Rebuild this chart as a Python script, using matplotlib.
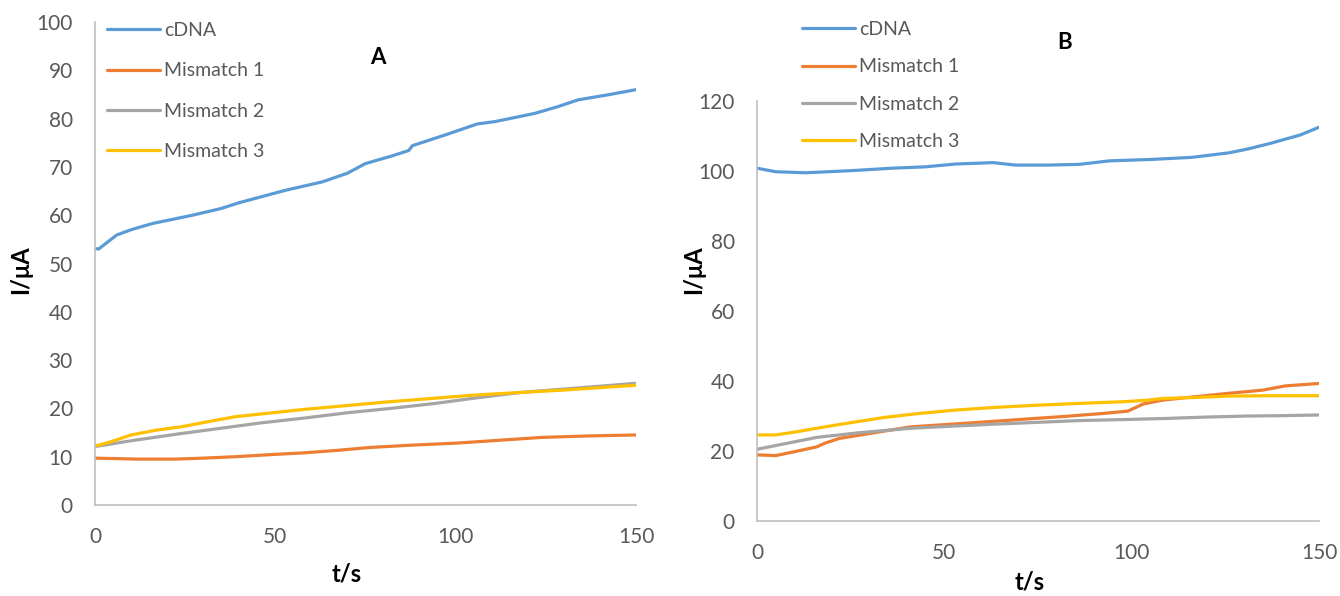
import matplotlib
matplotlib.use("Agg")
import matplotlib.pyplot as plt

plt.rcParams['font.family'] = ['Lato', 'DejaVu Sans']

series_names = ["cDNA", "Mismatch 1", "Mismatch 2", "Mismatch 3"]
colors = ["#5B9BD5", "#ED7D31", "#A5A5A5", "#FFC000"]

# panel A
t_a_cdna = [0, 1, 6, 10, 16, 27, 35, 40, 45, 53, 63, 70, 75, 82, 87, 88, 97, 106, 111, 122, 128, 134, 142, 150]
i_a_cdna = [53.1, 53.0, 55.9, 57.0, 58.3, 60.0, 61.4, 62.6, 63.6, 65.2, 66.9, 68.7, 70.7, 72.2, 73.4, 74.4, 76.6, 78.9, 79.4, 81.1, 82.4, 83.9, 84.9, 86.0]
t_a_m1 = [0, 12, 22, 30, 39, 48, 58, 67, 76, 88, 100, 112, 124, 137, 150]
i_a_m1 = [9.7, 9.5, 9.5, 9.7, 10.0, 10.4, 10.8, 11.3, 11.9, 12.4, 12.8, 13.4, 14.0, 14.3, 14.5]
t_a_m2 = [0, 10, 22, 34, 46, 58, 70, 82, 94, 106, 118, 130, 140, 150]
i_a_m2 = [12.1, 13.3, 14.6, 15.8, 17.0, 18.0, 19.1, 20.0, 21.0, 22.2, 23.3, 24.0, 24.6, 25.2]
t_a_m3 = [0, 4, 10, 17, 24, 31, 39, 48, 58, 70, 82, 94, 106, 118, 130, 140, 150]
i_a_m3 = [12.2, 13.0, 14.5, 15.5, 16.2, 17.2, 18.3, 19.0, 19.8, 20.6, 21.4, 22.1, 22.8, 23.3, 23.8, 24.3, 24.8]

# panel B
t_b_cdna = [0, 5, 13, 25, 36, 45, 53, 63, 69, 78, 86, 94, 105, 116, 126, 131, 137, 145, 150]
i_b_cdna = [100.8, 99.8, 99.5, 100.1, 100.8, 101.2, 102.0, 102.4, 101.7, 101.7, 101.9, 102.9, 103.3, 103.9, 105.2, 106.3, 107.9, 110.3, 112.5]
t_b_m1 = [0, 5, 10, 16, 18, 22, 30, 41, 58, 70, 81, 92, 99, 103, 108, 114, 126, 135, 141, 150]
i_b_m1 = [18.9, 18.7, 19.8, 21.2, 22.2, 23.6, 25.0, 26.9, 28.1, 29.0, 29.8, 30.7, 31.4, 33.4, 34.5, 35.2, 36.5, 37.4, 38.6, 39.3]
t_b_m2 = [0, 8, 16, 27, 41, 52, 64, 75, 86, 98, 109, 120, 131, 140, 150]
i_b_m2 = [20.5, 22.2, 23.9, 25.2, 26.5, 27.1, 27.7, 28.2, 28.7, 29.0, 29.3, 29.7, 30.0, 30.1, 30.3]
t_b_m3 = [0, 5, 10, 17, 25, 34, 43, 53, 64, 75, 86, 98, 104, 108, 117, 126, 138, 150]
i_b_m3 = [24.6, 24.6, 25.4, 26.7, 28.1, 29.6, 30.7, 31.7, 32.5, 33.1, 33.6, 34.1, 34.5, 35.0, 35.3, 35.7, 35.8, 35.8]

panels = [
    dict(data=[(t_a_cdna, i_a_cdna), (t_a_m1, i_a_m1), (t_a_m2, i_a_m2), (t_a_m3, i_a_m3)],
         rect=[0.0709, 0.1527, 0.4037, 0.8103], ylim=(0, 100), yticks=range(0, 101, 10),
         title="A", title_xy=(0.523, 0.9275),
         ylab_xy=(-0.117, 0.487), xlab_xy=(0.466, -0.12),
         leg_anchor=(107 / 1340, 1 - 22 / 596), leg_spacing=1.2),
    dict(data=[(t_b_cdna, i_b_cdna), (t_b_m1, i_b_m1), (t_b_m2, i_b_m2), (t_b_m3, i_b_m3)],
         rect=[0.5649, 0.1258, 0.4194, 0.7047], ylim=(0, 120), yticks=range(0, 121, 20),
         title="B", title_xy=(0.548, 1.14),
         ylab_xy=(-0.093, 0.598), xlab_xy=(0.486, -0.118),
         leg_anchor=(802 / 1340, 1 - 21 / 596), leg_spacing=1.05),
]

fig = plt.figure(figsize=(13.4, 5.96), dpi=100)

for p in panels:
    ax = fig.add_axes(p["rect"])
    for (t, i), name, c in zip(p["data"], series_names, colors):
        ax.plot(t, i, color=c, lw=2.3, label=name, solid_capstyle="round")
    ax.set_xlim(0, 150)
    ax.set_ylim(*p["ylim"])
    ax.set_xticks([0, 50, 100, 150])
    ax.set_yticks(list(p["yticks"]))
    for s in ["top", "right"]:
        ax.spines[s].set_visible(False)
    for s in ["left", "bottom"]:
        ax.spines[s].set_color("#BFBFBF")
        ax.spines[s].set_linewidth(1.2)
    ax.tick_params(length=0, pad=16, labelsize=15, labelcolor="#595959")
    ax.set_xlabel("t/s", fontsize=17, fontweight="bold")
    ax.set_ylabel("I/μA", fontsize=17, fontweight="bold")
    ax.xaxis.set_label_coords(*p["xlab_xy"])
    ax.yaxis.set_label_coords(*p["ylab_xy"])
    ax.text(*p["title_xy"], p["title"], transform=ax.transAxes, fontsize=16,
            fontweight="bold", ha="center", va="center", clip_on=False)
    ax.legend(loc="upper left", bbox_to_anchor=p["leg_anchor"], bbox_transform=fig.transFigure,
              frameon=False, fontsize=14, handlelength=2.7, handletextpad=0.25,
              labelspacing=p["leg_spacing"], borderpad=0, borderaxespad=0,
              labelcolor="#595959")

fig.savefig("out.png", dpi=100)
